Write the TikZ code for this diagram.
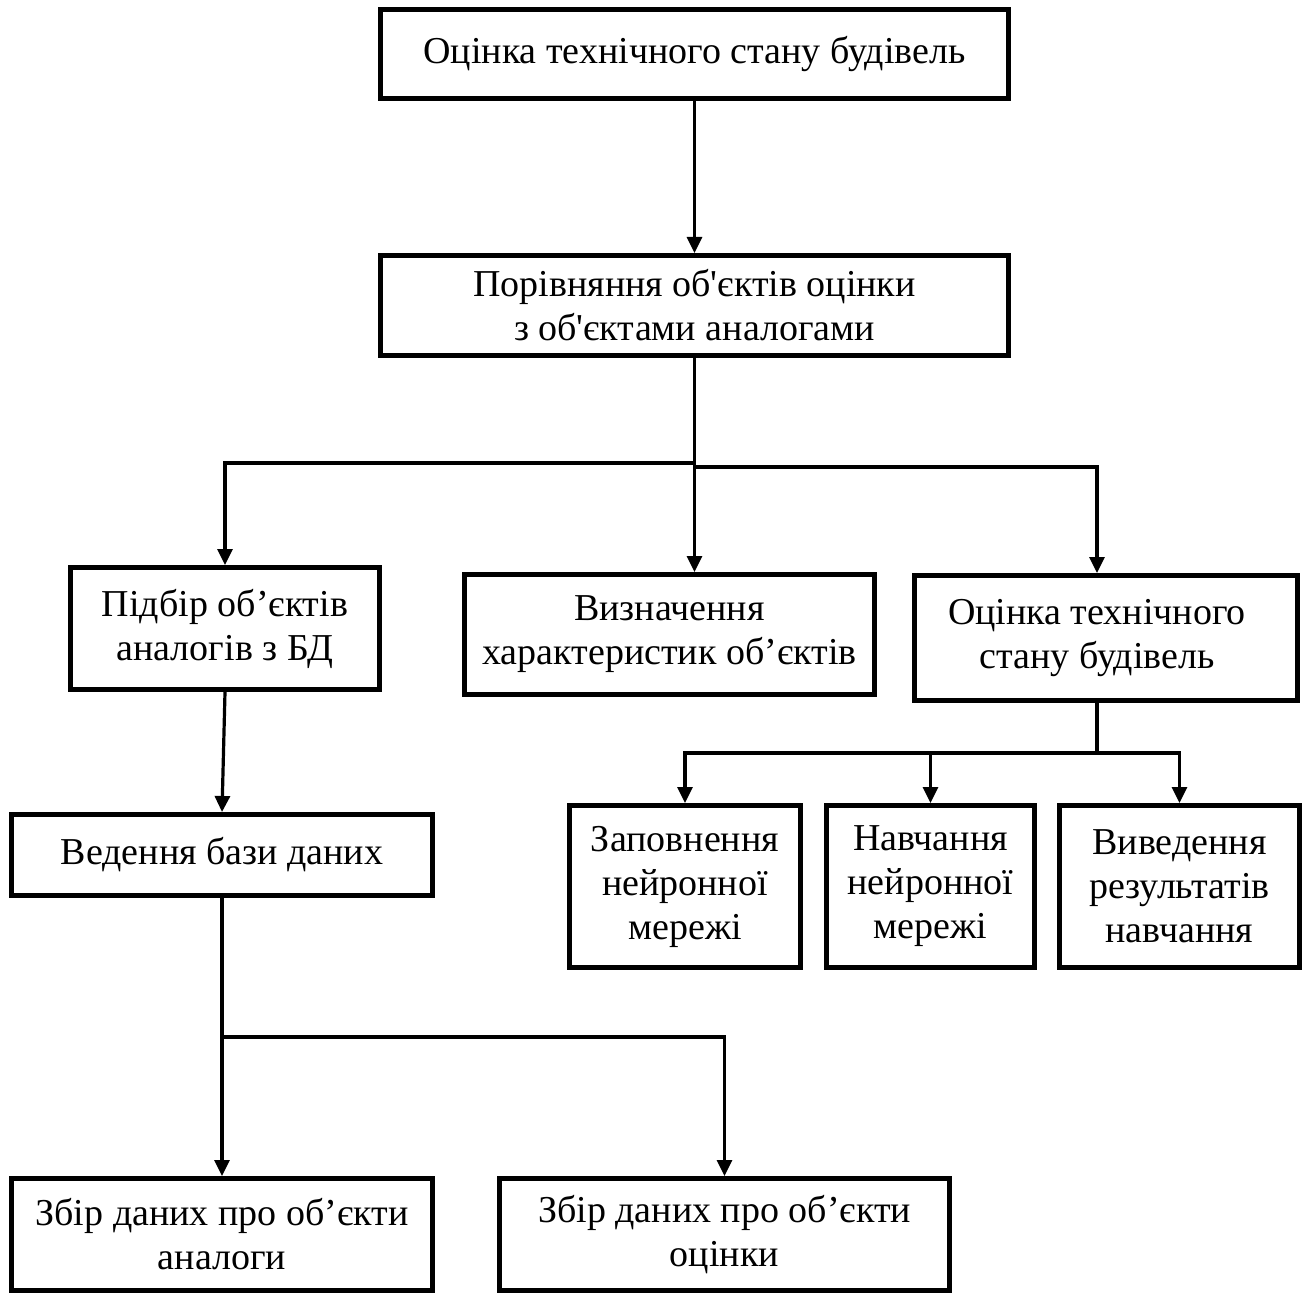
\documentclass[tikz,border=0pt]{standalone}
\usepackage{fontspec}
\setmainfont{Liberation Serif}[Ligatures=TeXOff]
\usepackage{tikz}
\usetikzlibrary{positioning,arrows.meta}

\begin{document}
\begin{tikzpicture}[
  x=0.5pt,y=-0.5pt,
  blk/.style={rectangle,draw=black,line width=2.5pt,fill=white,align=center,inner sep=2pt,
    font=\fontsize{19pt}{22pt}\selectfont},
  arr/.style={-{Triangle[length=8pt,width=7.5pt]},line width=1.6pt,draw=black},
  lnk/.style={line width=1.6pt,draw=black},
]
\useasboundingbox (0,0) rectangle (1311,1294);

% Рівень 1: оцінка
\node[blk,minimum width=314pt,minimum height=44.5pt] (top) at (694.5,54) {Оцінка технічного стану будівель};

% Рівень 2: порівняння
\node[blk,minimum width=314pt,minimum height=50pt] (cmp) at (694.5,305.5) {Порівняння об'єктів оцінки\\з об'єктами аналогами};

% Рівень 3
\node[blk,minimum width=154.5pt,minimum height=61pt] (pick) at (225,628.5) {Підбір об’єктів\\аналогів з БД};
\node[blk,minimum width=205pt,minimum height=60pt] (chars) at (669.5,634.5) {Визначення\\характеристик об’єктів};
\node[blk,minimum width=191.5pt,minimum height=62.5pt] (assess) at (1106,638) {Оцінка технічного\hspace*{9pt}\\стану будівель\hspace*{9pt}};

% Рівень 4: нейронна мережа
\node[blk,minimum width=115.5pt,minimum height=81pt] (fill) at (685,886.5) {Заповнення\\нейронної\\мережі};
\node[blk,minimum width=104pt,minimum height=81pt] (train) at (930.5,886.5) {Навчання\\нейронної\\мережі};
\node[blk,minimum width=120pt,minimum height=81pt] (out) at (1179.5,886.5) {Виведення\\результатів\\навчання};

% База даних
\node[blk,minimum width=210.5pt,minimum height=40.5pt] (db) at (222,855) {Ведення бази даних};
\node[blk,minimum width=210.5pt,minimum height=56pt] (colA) at (222,1234.5) {Збір даних про об’єкти\\аналоги};
\node[blk,minimum width=225pt,minimum height=56pt] (colB) at (724.5,1234.5) {Збір даних про об’єкти\\оцінки};

% Вузли розгалуження
\coordinate (jL) at (694.5,463);
\coordinate (jR) at (694.5,467);
\coordinate (jN) at (1097,753);
\coordinate (jD) at (222,1037);

% Стрілки
\draw[arr] (top) -- (cmp);
\draw[arr] (cmp.south) -- (cmp.south |- chars.north);
\draw[arr] (jL) -| (pick.north);
\draw[arr] (jR) -| ([xshift=-4.5pt]assess.north);
\draw[arr] (pick.south) -- (db.north);
\draw[lnk] ([xshift=-4.5pt]assess.south) -- (jN);
\draw[arr] (jN) -| (fill.north);
\draw[arr] (jN) -| (out.north);
\draw[arr] (train.north |- jN) -- (train.north);
\draw[lnk] (db.south) -- (jD);
\draw[arr] (jD) -- (colA.north);
\draw[arr] (jD) -| (colB.north);

\end{tikzpicture}
\end{document}
